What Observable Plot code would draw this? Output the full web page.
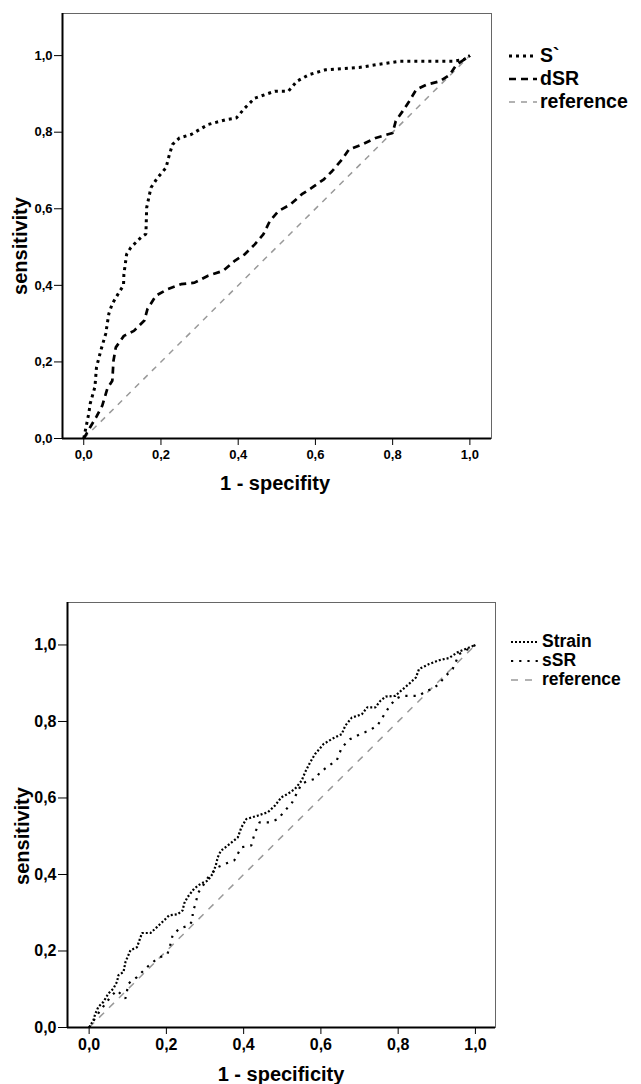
<!DOCTYPE html>
<html><head><meta charset="utf-8">
<script src="https://cdn.jsdelivr.net/npm/d3@7"></script>
<script src="https://cdn.jsdelivr.net/npm/@observablehq/plot@0.6"></script>
<style>
body{margin:0;background:#fff;font-family:"Liberation Sans",Arial,sans-serif;}
#root{position:relative;width:641px;height:1084px;overflow:hidden;background:#fff;}
.ttl{position:absolute;font-weight:bold;font-size:20px;line-height:20px;white-space:nowrap;color:#000;}
.leg{position:absolute;display:flex;align-items:center;font-weight:bold;white-space:nowrap;color:#000;}
.leg svg{margin-right:3px;}
</style></head><body><div id="root"></div>
<script>
// ---------- data: chart 1 ----------
const ticks = [0, 0.2, 0.4, 0.6, 0.8, 1.0];
const sPrimeX = [0,0.013,0.017,0.029,0.033,0.044,0.057,0.065,0.074,0.091,0.103,0.104,0.111,0.122,0.148,0.161,0.163,0.174,0.191,0.213,0.222,0.230,0.248,0.278,0.322,0.369,0.395,0.417,0.443,0.495,0.530,0.552,0.583,0.626,0.713,0.756,0.817,0.887,0.956,0.985,1.0];
const sPrimeY = [0,0.065,0.092,0.135,0.186,0.229,0.274,0.326,0.352,0.381,0.40,0.429,0.481,0.499,0.525,0.534,0.603,0.655,0.681,0.707,0.742,0.768,0.785,0.794,0.820,0.833,0.837,0.863,0.889,0.907,0.907,0.933,0.950,0.963,0.969,0.976,0.985,0.985,0.985,0.99,1.0];
const dSRX = [0,0.017,0.033,0.048,0.061,0.074,0.077,0.083,0.104,0.130,0.157,0.165,0.187,0.217,0.252,0.287,0.322,0.361,0.391,0.417,0.443,0.465,0.482,0.504,0.535,0.565,0.591,0.622,0.643,0.669,0.687,0.721,0.756,0.800,0.808,0.826,0.843,0.861,0.887,0.922,0.948,0.965,1.0];
const dSRY = [0,0.03,0.057,0.086,0.13,0.151,0.203,0.238,0.268,0.281,0.308,0.338,0.373,0.390,0.403,0.407,0.425,0.438,0.464,0.481,0.507,0.533,0.568,0.594,0.611,0.638,0.655,0.677,0.698,0.729,0.755,0.768,0.785,0.798,0.829,0.855,0.881,0.911,0.924,0.933,0.950,0.976,1.0];
// ---------- data: chart 2 ----------
const strainX = [0,0.011,0.016,0.024,0.037,0.050,0.063,0.072,0.076,0.089,0.094,0.107,0.124,0.133,0.137,0.159,0.176,0.194,0.207,0.229,0.242,0.246,0.255,0.272,0.289,0.307,0.320,0.328,0.333,0.341,0.359,0.385,0.394,0.407,0.437,0.463,0.481,0.498,0.515,0.533,0.550,0.559,0.572,0.585,0.607,0.628,0.654,0.663,0.680,0.706,0.720,0.741,0.754,0.768,0.793,0.807,0.828,0.846,0.854,0.880,0.906,0.932,0.954,1.0];
const strainY = [0,0.019,0.036,0.054,0.067,0.089,0.102,0.119,0.137,0.145,0.171,0.202,0.210,0.236,0.247,0.247,0.263,0.280,0.293,0.296,0.306,0.324,0.341,0.363,0.376,0.384,0.402,0.424,0.445,0.462,0.476,0.497,0.523,0.545,0.554,0.563,0.580,0.602,0.611,0.624,0.645,0.667,0.693,0.715,0.741,0.754,0.767,0.789,0.810,0.819,0.837,0.837,0.854,0.865,0.867,0.880,0.898,0.915,0.937,0.950,0.960,0.966,0.981,1.0];
const sSRX = [0,0.029,0.046,0.055,0.072,0.094,0.102,0.124,0.150,0.176,0.203,0.211,0.216,0.233,0.259,0.268,0.268,0.276,0.281,0.298,0.311,0.333,0.350,0.376,0.394,0.420,0.428,0.441,0.467,0.489,0.507,0.524,0.537,0.550,0.567,0.585,0.598,0.620,0.641,0.654,0.676,0.702,0.724,0.746,0.759,0.776,0.793,0.811,0.828,0.854,0.872,0.889,0.906,0.919,0.941,0.958,1.0];
const sSRY = [0,0.045,0.067,0.080,0.097,0.076,0.115,0.132,0.158,0.180,0.193,0.219,0.241,0.258,0.267,0.280,0.302,0.324,0.350,0.376,0.397,0.419,0.427,0.437,0.471,0.476,0.506,0.536,0.536,0.545,0.567,0.585,0.611,0.637,0.645,0.650,0.667,0.684,0.698,0.732,0.754,0.767,0.776,0.789,0.810,0.837,0.859,0.867,0.867,0.867,0.880,0.885,0.898,0.915,0.937,0.976,1.0];
const refX = [0, 1];
const refY = [0, 1];

const toRows = (xs, ys) => xs.map((x, i) => ({x, y: ys[i]}));
const fmt = d => d.toFixed(1).replace(".", ",");

function chart(cfg) {
  return Plot.plot({
    width: cfg.width, height: cfg.height,
    marginLeft: cfg.ml, marginRight: cfg.mr, marginTop: cfg.mt, marginBottom: cfg.mb,
    x: {domain: cfg.xDomain, ticks, tickFormat: fmt, tickSize: cfg.xTickSize, tickPadding: cfg.xTickPad, label: null},
    y: {domain: cfg.yDomain, ticks, tickFormat: fmt, tickSize: cfg.yTickSize, tickPadding: cfg.yTickPad, label: null},
    style: {fontFamily: '"Liberation Sans", Arial, sans-serif', fontSize: cfg.fontSize + "px", fontWeight: "bold", color: "#000", background: "transparent", overflow: "visible"},
    marks: [
      Plot.frame({stroke: "#666", strokeWidth: 1}),
      Plot.line(toRows(refX, refY), {x: "x", y: "y", stroke: "#999", strokeWidth: 1.5, strokeDasharray: cfg.refDash, strokeLinecap: "butt"}),
      ...cfg.series.map(s => Plot.line(toRows(s.x, s.y), {x: "x", y: "y", stroke: "#000", strokeWidth: s.w, strokeDasharray: s.dash, strokeLinecap: "butt", strokeLinejoin: "miter"})),
      Plot.ruleY([cfg.yDomain[0]], {stroke: "#000", strokeWidth: 2}),
      Plot.ruleX([cfg.xDomain[0]], {stroke: "#000", strokeWidth: 2})
    ]
  });
}

const root = document.getElementById("root");

function place(el, left, top) {
  el.style.position = "absolute"; el.style.left = left + "px"; el.style.top = top + "px";
  root.appendChild(el);
}
function title(text, cx, baseline, rotate) {
  const d = document.createElement("div");
  d.className = "ttl"; d.textContent = text;
  if (rotate) {
    d.style.left = cx + "px"; d.style.top = baseline + "px";
    d.style.transform = "translate(-50%,-50%) rotate(-90deg)";
  } else {
    d.style.left = cx + "px"; d.style.top = (baseline - 17) + "px";
    d.style.transform = "translateX(-50%)";
  }
  root.appendChild(d);
}
function legend(items, left, centers, fs) {
  items.forEach((it, i) => {
    const d = document.createElement("div");
    d.className = "leg";
    d.style.fontSize = fs + "px"; d.style.lineHeight = fs + "px";
    d.style.left = left + "px"; d.style.top = (centers[i] - fs / 2) + "px";
    d.innerHTML = `<svg width="28" height="10"><line x1="0" y1="5" x2="28" y2="5" stroke="${it.color}" stroke-width="${it.w}" stroke-dasharray="${it.dash}"/></svg><span>${it.label}</span>`;
    root.appendChild(d);
  });
}

// chart 1
const c1 = chart({
  width: 500, height: 500, ml: 62, mr: 9, mt: 13, mb: 62,
  xDomain: [-0.055, 1.056], yDomain: [0, 1.11],
  xTickSize: 7, xTickPad: 4, yTickSize: 8, yTickPad: 2, fontSize: 13,
  refDash: "6,6",
  series: [
    {x: sPrimeX, y: sPrimeY, w: 3, dash: "3,4"},
    {x: dSRX, y: dSRY, w: 2.7, dash: "7,5"}
  ]
});
place(c1, 0, 0);
title("sensitivity", 20, 246, true);
title("1 - specifity", 275, 490, false);
legend([
  {label: "S`", color: "#000", w: 3, dash: "3,4"},
  {label: "dSR", color: "#000", w: 2.7, dash: "7,5"},
  {label: "reference", color: "#999", w: 1.5, dash: "6,6"}
], 509, [56, 79, 102], 19.5);

// chart 2
const c2 = chart({
  width: 500, height: 494, ml: 67, mr: 5, mt: 12, mb: 57,
  xDomain: [-0.056, 1.052], yDomain: [0, 1.111],
  xTickSize: 7, xTickPad: 4, yTickSize: 9, yTickPad: 2, fontSize: 16,
  refDash: "7,7",
  series: [
    {x: strainX, y: strainY, w: 2.2, dash: "2,2"},
    {x: sSRX, y: sSRY, w: 2.2, dash: "2.2,6"}
  ]
});
place(c2, 0, 590);
title("sensitivity", 22, 836, true);
title("1 - specificity", 281, 1081, false);
legend([
  {label: "Strain", color: "#000", w: 2.2, dash: "2,2"},
  {label: "sSR", color: "#000", w: 2.2, dash: "2.2,6"},
  {label: "reference", color: "#999", w: 1.5, dash: "7,7"}
], 511, [642, 661, 680], 17.5);
</script></body></html>
